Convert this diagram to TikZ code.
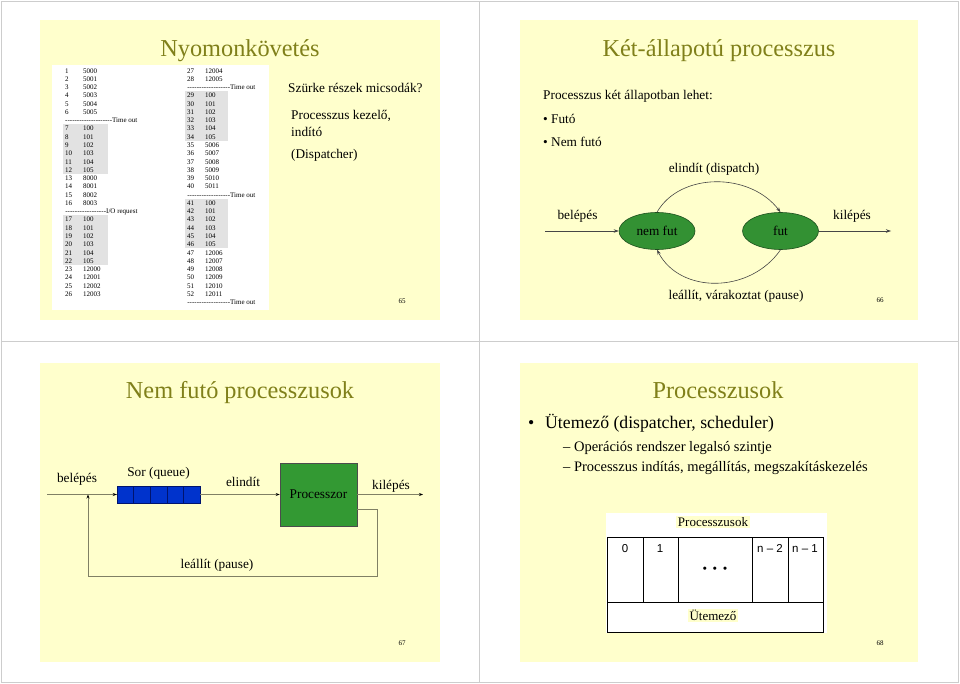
\documentclass[tikz,border=0pt]{standalone}
\usepackage{fontspec}
\setmainfont{Liberation Serif}
\newfontfamily\sansf{Liberation Sans}
\usetikzlibrary{shapes.geometric,arrows.meta,calc}
\definecolor{slidebg}{RGB}{255,255,204}
\definecolor{titlecol}{RGB}{128,128,26}
\definecolor{framecol}{RGB}{205,205,205}
\definecolor{stategreen}{RGB}{51,145,51}
\definecolor{statedark}{RGB}{30,80,30}
\definecolor{procgreen}{RGB}{51,153,51}
\definecolor{queueblue}{RGB}{0,51,204}
\definecolor{queuedark}{RGB}{0,20,110}
\definecolor{shadegray}{RGB}{226,226,226}
\definecolor{linegray}{RGB}{70,70,70}
\definecolor{oliveline}{RGB}{128,128,100}
\newcommand\hyrun[1]{\hbox to #1{\xleaders\hbox{-}\hfill}}
\begin{document}
\begin{tikzpicture}[x=1pt,y=-1pt,
  title/.style={text=titlecol, font=\fontsize{24.3}{29}\selectfont, anchor=base, inner sep=0},
  txt/.style={font=\fontsize{13.3}{16}\selectfont, anchor=base west, inner sep=0},
  ctxt/.style={font=\fontsize{13.3}{16}\selectfont, anchor=base, inner sep=0},
  btxt/.style={font=\fontsize{17.7}{21}\selectfont, anchor=base west, inner sep=0},
  stxt/.style={font=\fontsize{14.5}{17}\selectfont, anchor=base west, inner sep=0},
  tbl/.style={font=\fontsize{7}{8}\selectfont, anchor=base west, inner sep=0},
  pnum/.style={font=\fontsize{7}{8}\selectfont, anchor=base, inner sep=0},
  state/.style={ellipse, draw=statedark, fill=stategreen, line width=0.6pt, minimum width=76pt, minimum height=37pt, inner sep=0, font=\fontsize{13.3}{16}\selectfont},
  arr/.style={-{Stealth[length=5pt,width=3.5pt]}, draw=linegray, line width=0.6pt},
  arrq/.style={-{Stealth[length=4pt,width=3pt,black]}, draw=oliveline, line width=0.7pt},
  qcell/.style={draw=queuedark, fill=queueblue, minimum width=16.6pt, minimum height=17pt, inner sep=0, line width=0.5pt},
  lbl/.style={fill=slidebg, inner sep=1.5pt, font=\fontsize{13}{15}\selectfont, anchor=base},
  slabel/.style={font=\sansf\fontsize{11.5}{13}\selectfont, anchor=base, inner sep=0}
]
\useasboundingbox (0,0) rectangle (960,684);
\fill[white] (0,0) rectangle (960,684);
% frames
\draw[framecol, line width=0.6pt] (1,1) rectangle (958,682);
\draw[framecol, line width=0.8pt] (479,1) -- (479,682);
\draw[framecol, line width=0.8pt] (1,341) -- (958,341);
% slide backgrounds
\fill[slidebg] (40,20) rectangle (440,320);
\fill[slidebg] (520,20) rectangle (918,320);
\fill[slidebg] (40,363) rectangle (440,662);
\fill[slidebg] (520,363) rectangle (918,662);

%%%%%%%% Slide 65
\node[title] (t1) at (240,56.5) {Nyomonkövetés};
\fill[white] (52,65) rectangle (269,310);
\fill[shadegray] (63,124.4) rectangle (108,174);
\fill[shadegray] (63,215.5) rectangle (108,265);
\fill[shadegray] (185,91.4) rectangle (228,141);
\fill[shadegray] (185,198.9) rectangle (228,248.5);
\foreach \l/\n/\v in {0/1/5000,1/2/5001,2/3/5002,3/4/5003,4/5/5004,5/6/5005,
  7/7/100,8/8/101,9/9/102,10/10/103,11/11/104,12/12/105,
  13/13/8000,14/14/8001,15/15/8002,16/16/8003,
  18/17/100,19/18/101,20/19/102,21/20/103,22/21/104,23/22/105,
  24/23/12000,25/24/12001,26/25/12002,27/26/12003}
  {\node[tbl] (n\n) at (65,{73.1+\l*8.27}) {\n};
   \node[tbl] (v\n) at (83,{73.1+\l*8.27}) {\v};}
\foreach \l/\n/\v in {0/27/12004,1/28/12005,
  3/29/100,4/30/101,5/31/102,6/32/103,7/33/104,8/34/105,
  9/35/5006,10/36/5007,11/37/5008,12/38/5009,13/39/5010,14/40/5011,
  16/41/100,17/42/101,18/43/102,19/44/103,20/45/104,21/46/105,
  22/47/12006,23/48/12007,24/49/12008,25/50/12009,26/51/12010,27/52/12011}
  {\node[tbl] (n\n) at (187,{73.1+\l*8.27}) {\n};
   \node[tbl] (v\n) at (205,{73.1+\l*8.27}) {\v};}
\node[tbl] (s1) at (65,{73.1+6*8.27}) {\hyrun{47pt}Time out};
\node[tbl] (s2) at (65,{73.1+17*8.27}) {\hyrun{41pt}I/O request};
\node[tbl] (s3) at (187,{73.1+2*8.27}) {\hyrun{43pt}Time out};
\node[tbl] (s4) at (187,{73.1+15*8.27}) {\hyrun{43pt}Time out};
\node[tbl] (s5) at (187,{73.1+28*8.27}) {\hyrun{43pt}Time out};
\node[txt] (q) at (288,92.7) {Szürke részek micsodák?};
\node[txt] (a1) at (291,120) {Processzus kezelő,};
\node[txt] (a2) at (291,136.7) {indító};
\node[txt] (a3) at (291,158.5) {(Dispatcher)};
\node[pnum] (p65) at (402,303) {65};

%%%%%%%% Slide 66
\node[title] (t2) at (719,56.5) {Két-állapotú processzus};
\node[txt] (l0) at (543,100) {Processzus két állapotban lehet:};
\node[txt] (l1) at (543,123.3) {• Futó};
\node[txt] (l2) at (543,146.7) {• Nem futó};
\node[state] (nf) at (657,231) {nem fut};
\node[state] (fu) at (780.5,231) {fut};
\coordinate (in2) at (545,231);
\coordinate (out2) at (891,231);
\draw[arr] (in2) -- (nf.west);
\draw[arr] (fu.east) -- (out2);
\draw[arr] (nf.north) .. controls (680,172) and (750,172) .. (fu.north);
\draw[arr] (fu.south) .. controls (750,294) and (680,294) .. (nf.south);
\node[ctxt] (e2) at (714,172.7) {elindít (dispatch)};
\node[ctxt] (be2) at (577.5,219.3) {belépés};
\node[ctxt] (ki2) at (852,219.3) {kilépés};
\node[ctxt] (le2) at (736,299.3) {leállít, várakoztat (pause)};
\node[pnum] (p66) at (880,302) {66};

%%%%%%%% Slide 67
\node[title] (t3) at (240,398) {Nem futó processzusok};
\foreach \i/\x in {1/125.3,2/141.9,3/158.5,4/175.1,5/191.7}
  {\node[qcell] (q\i) at (\x,494.5) {};}
\node[draw=black!70, fill=procgreen, line width=0.6pt, minimum width=77pt, minimum height=63pt, inner sep=0, font=\fontsize{13.3}{16}\selectfont] (proc) at (318.5,494.5) {Processzor};
\coordinate (in3) at (47,494.5);
\coordinate (out3) at (423,494.5);
\coordinate (fb0) at (357,509);
\coordinate (fb1) at (377,509);
\coordinate (fb2) at (377,576);
\coordinate (fb3) at (88,576);
\coordinate (fb4) at (88,494.5);
\draw[draw=oliveline, line width=0.7pt] (in3) -- (q1.west);
\draw[arrq] (fb4) ++(-5,0) -- (q1.west);
\draw[arrq] (q5.east) -- (proc.west);
\draw[arrq] (proc.east) -- (out3);
\draw[arrq] (fb0) -- (fb1) -- (fb2) -- (fb3) -- (fb4);
\node[ctxt] (be3) at (77,482.7) {belépés};
\node[ctxt] (sor) at (158.5,476) {Sor (queue)};
\node[ctxt] (el3) at (243,486) {elindít};
\node[ctxt] (ki3) at (391,489.3) {kilépés};
\node[ctxt] (le3) at (217,568.3) {leállít (pause)};
\node[pnum] (p67) at (402,645) {67};

%%%%%%%% Slide 68
\node[title] (t4) at (718,398) {Processzusok};
\node[btxt] (u0) at (528,428.3) {•};
\node[btxt] (u1) at (545,428.3) {Ütemező (dispatcher, scheduler)};
\node[stxt] (u2) at (563,451.7) {– Operációs rendszer legalsó szintje};
\node[stxt] (u3) at (563,471) {– Processzus indítás, megállítás, megszakításkezelés};
\fill[white] (606,513) rectangle (827,633);
\draw[black, line width=0.8pt] (607,537) rectangle (823,632);
\draw[black, line width=0.8pt] (607,602) -- (823,602);
\foreach \x in {643,678,752,788} {\draw[black, line width=0.8pt] (\x,537) -- (\x,602);}
\node[lbl] (pl) at (713,526.7) {Processzusok};
\node[lbl] (ul) at (713,620.7) {Ütemező};
\node[slabel] (c0) at (625,552) {0};
\node[slabel] (c1) at (660,552) {1};
\node[slabel] (c2) at (770,552) {n – 2};
\node[slabel] (c3) at (805,552) {n – 1};
\node[slabel] (cd) at (715,572) {•\hspace{6pt}•\hspace{6pt}•};
\node[pnum] (p68) at (880,645) {68};
\end{tikzpicture}
\end{document}
